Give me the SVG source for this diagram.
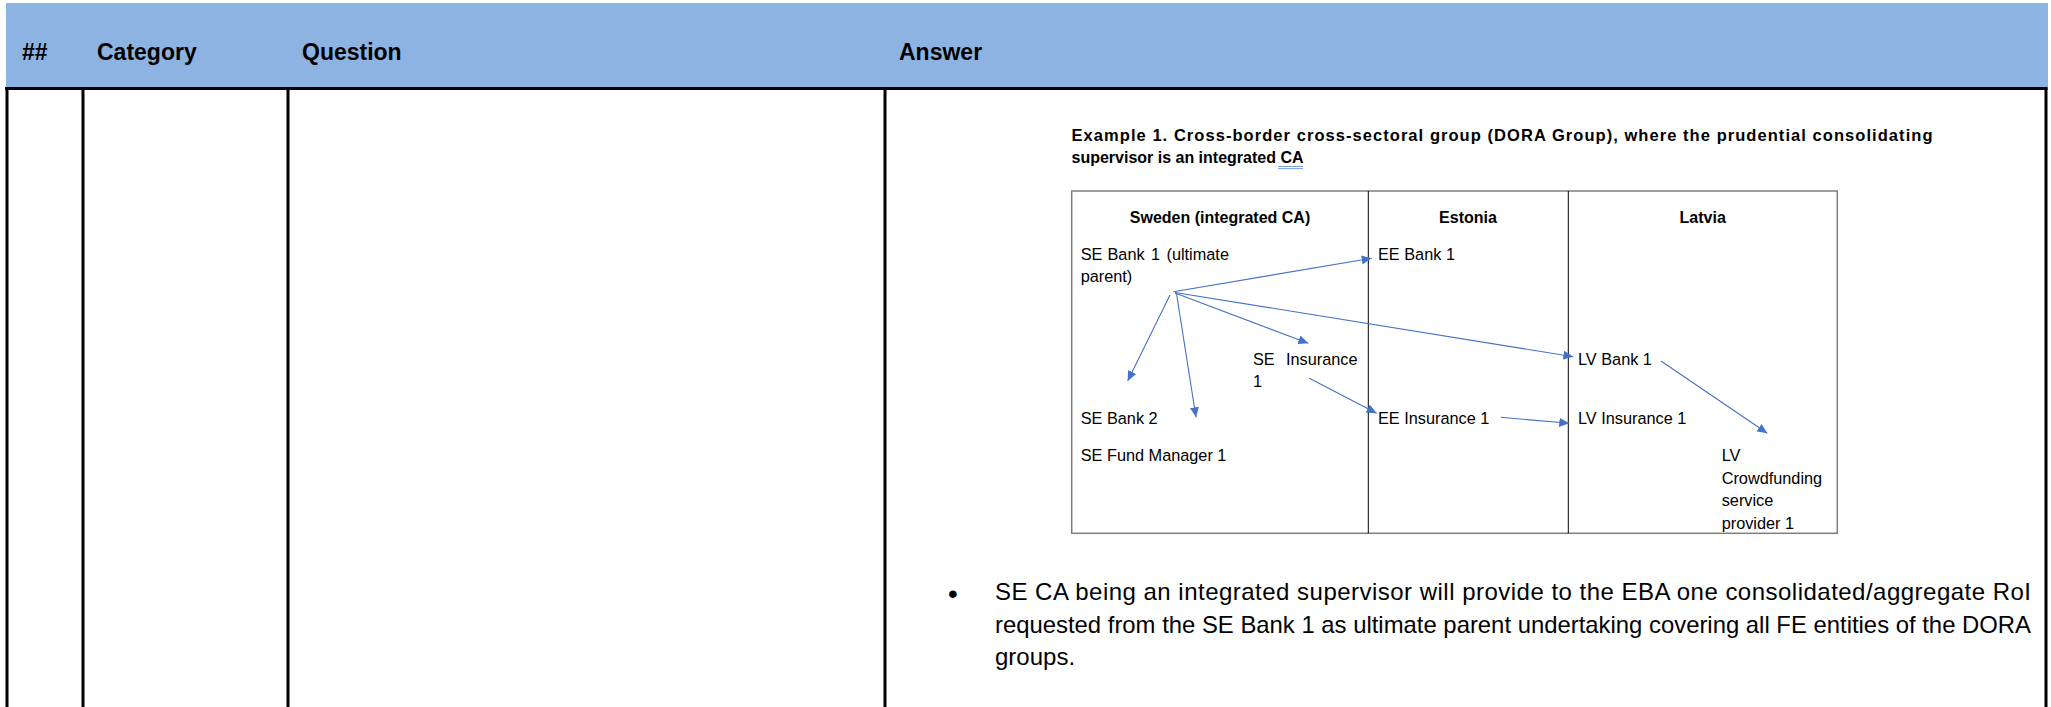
<svg xmlns="http://www.w3.org/2000/svg" width="2051" height="707" viewBox="0 0 2051 707">
<style>
.hdr{font-family:"Liberation Sans",Arial,sans-serif;font-weight:bold;font-size:23px;fill:#000}
.body{font-family:"Liberation Sans",Arial,sans-serif;font-size:24px;fill:#000}
.ttl{font-family:"Liberation Sans",Arial,sans-serif;font-weight:bold;font-size:16.5px;fill:#000}
.col{font-family:"Liberation Sans",Arial,sans-serif;font-weight:bold;font-size:16px;fill:#000;text-anchor:middle}
.lbl{font-family:"Liberation Sans",Arial,sans-serif;font-size:16.3px;fill:#000}
.tline{stroke:#000;stroke-width:3;fill:none}
.arr{stroke:#4472C4;stroke-width:1.1;fill:none;marker-end:url(#ah)}
</style>
<defs>
<marker id="ah" markerUnits="userSpaceOnUse" markerWidth="11" markerHeight="9" refX="10" refY="4.5" orient="auto">
<path d="M0,0 L10,4.5 L0,9 z" fill="#4472C4"/>
</marker>
</defs>
<rect width="2051" height="707" fill="#fff"/>
<g id="table-header">
<rect x="6" y="3" width="2042" height="85" fill="#8DB3E2"/>
<text class="hdr" x="22" y="60">##</text>
<text class="hdr" x="97" y="60">Category</text>
<text class="hdr" x="302" y="60">Question</text>
<text class="hdr" x="899" y="60">Answer</text>
</g>
<g id="table-lines">
<line class="tline" x1="5" y1="88.5" x2="2047.5" y2="88.5"/>
<line class="tline" x1="7" y1="88" x2="7" y2="707"/>
<line class="tline" x1="83" y1="88" x2="83" y2="707"/>
<line class="tline" x1="288" y1="88" x2="288" y2="707"/>
<line class="tline" x1="885" y1="88" x2="885" y2="707"/>
<line class="tline" x1="2046" y1="88" x2="2046" y2="707"/>
</g>
<g id="example-title">
<text class="ttl" x="1071.5" y="141" textLength="861" lengthAdjust="spacing">Example 1. Cross-border cross-sectoral group (DORA Group), where the prudential consolidating</text>
<text class="ttl" x="1071.5" y="163" textLength="232" lengthAdjust="spacingAndGlyphs">supervisor is an integrated CA</text>
<line x1="1278" y1="166.5" x2="1303" y2="166.5" stroke="#5b87d0" stroke-width="0.8"/>
<line x1="1278" y1="168.6" x2="1303" y2="168.6" stroke="#5b87d0" stroke-width="0.8"/>
</g>
<g id="country-box">
<rect x="1071.7" y="191" width="765.6" height="342.3" fill="none" stroke="#7f7f7f" stroke-width="1.5"/>
<line x1="1368.3" y1="191" x2="1368.3" y2="533.3" stroke="#000" stroke-width="1"/>
<line x1="1568.3" y1="191" x2="1568.3" y2="533.3" stroke="#000" stroke-width="1"/>
<text class="col" x="1220" y="223">Sweden (integrated CA)</text>
<text class="col" x="1468" y="223">Estonia</text>
<text class="col" x="1702.7" y="223">Latvia</text>
</g>
<g id="node-se-bank-1">
<text class="lbl" y="260"><tspan x="1080.7">SE</tspan><tspan x="1107.5">Bank</tspan><tspan x="1151">1</tspan><tspan x="1166.5">(ultimate</tspan></text>
<text class="lbl" x="1080.7" y="282">parent)</text>
</g>
<g id="node-ee-bank-1"><text class="lbl" x="1378" y="260">EE Bank 1</text></g>
<g id="node-se-insurance-1">
<text class="lbl" y="365"><tspan x="1253">SE</tspan><tspan x="1286">Insurance</tspan></text>
<text class="lbl" x="1253" y="387">1</text>
</g>
<g id="node-lv-bank-1"><text class="lbl" x="1578" y="365">LV Bank 1</text></g>
<g id="node-se-bank-2"><text class="lbl" x="1080.7" y="424">SE Bank 2</text></g>
<g id="node-ee-insurance-1"><text class="lbl" x="1378" y="424">EE Insurance 1</text></g>
<g id="node-lv-insurance-1"><text class="lbl" x="1578" y="424">LV Insurance 1</text></g>
<g id="node-se-fund-manager-1"><text class="lbl" x="1080.7" y="461">SE Fund Manager 1</text></g>
<g id="node-lv-crowdfunding">
<text class="lbl" x="1721.7" y="461">LV</text>
<text class="lbl" x="1721.7" y="483.5">Crowdfunding</text>
<text class="lbl" x="1721.7" y="506">service</text>
<text class="lbl" x="1721.7" y="528.5">provider 1</text>
</g>
<g id="connectors">
<line class="arr" x1="1173.3" y1="291.7" x2="1371.7" y2="258.3"/>
<line class="arr" x1="1170" y1="295" x2="1127.7" y2="381"/>
<line class="arr" x1="1176.5" y1="293.5" x2="1196" y2="417.3"/>
<line class="arr" x1="1175" y1="293" x2="1308.3" y2="343.3"/>
<line class="arr" x1="1175" y1="292.5" x2="1573.3" y2="356.7"/>
<line class="arr" x1="1309.3" y1="378.3" x2="1376.7" y2="413.3"/>
<line class="arr" x1="1500.7" y1="417.3" x2="1569.3" y2="423.3"/>
<line class="arr" x1="1661" y1="361" x2="1767.3" y2="433.3"/>
</g>
<g id="answer-text">
<text class="body" x="953" y="603" text-anchor="middle" style="font-size:28px">•</text>
<text class="body" x="995" y="600" textLength="1036" lengthAdjust="spacing">SE CA being an integrated supervisor will provide to the EBA one consolidated/aggregate RoI</text>
<text class="body" x="995" y="632.5" textLength="1036" lengthAdjust="spacingAndGlyphs">requested from the SE Bank 1 as ultimate parent undertaking covering all FE entities of the DORA</text>
<text class="body" x="995" y="665">groups.</text>
</g>
</svg>
